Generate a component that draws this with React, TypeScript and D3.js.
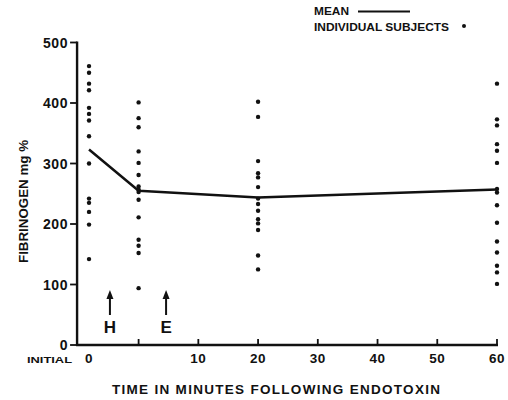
import React from "react";
import * as d3 from "d3";

// ---- data ----
const columnTimes = [-8.3, 0, 20, 60]; // plotting positions in minutes; first column = initial values
const initialValues = [461, 450, 432, 421, 392, 382, 371, 345, 300, 242, 235, 220, 199, 142];
const time0Values = [401, 375, 360, 320, 301, 281, 262, 257, 253, 240, 211, 174, 164, 152, 94];
const time20Values = [402, 377, 304, 284, 277, 261, 242, 233, 222, 208, 201, 190, 148, 125];
const time60Values = [432, 373, 363, 332, 321, 301, 258, 252, 231, 202, 171, 153, 131, 120, 101];
const meanValues = [323, 255, 244, 257];
const yTicks = [0, 100, 200, 300, 400, 500];
const xTickMarks = [0, 10, 20, 30, 40, 50, 60];
const xTickLabels = [
  { t: -8.3, label: "0" },
  { t: 10, label: "10" },
  { t: 20, label: "20" },
  { t: 30, label: "30" },
  { t: 40, label: "40" },
  { t: 50, label: "50" },
  { t: 60, label: "60" },
];
const arrows = [
  { t: -4.8, label: "H" },
  { t: 4.6, label: "E" },
];

const FONT = "'Liberation Sans', Arial, sans-serif";

export default function App() {
  const W = 508;
  const H = 400;
  const x = d3.scaleLinear().domain([0, 60]).range([138.6, 497]);
  const y = d3.scaleLinear().domain([0, 500]).range([345, 42.5]);
  const axisLeft = x(-10.3);

  const groups = [initialValues, time0Values, time20Values, time60Values];
  const points = groups.flatMap((vals, i) => vals.map((v) => ({ t: columnTimes[i], v })));
  const meanLine = d3
    .line<number>()
    .x((_, i) => x(columnTimes[i]))
    .y((d) => y(d))(meanValues) as string;

  return (
    <svg
      width={W}
      height={H}
      style={{ position: "absolute", left: 0, top: 0, background: "#fff" }}
      fontFamily={FONT}
      fontWeight="bold"
    >
      {/* legend */}
      <text x={314} y={15.2} fontSize={10} textLength={35} lengthAdjust="spacingAndGlyphs" fill="#111">
        MEAN
      </text>
      <line x1={358} x2={410} y1={11.5} y2={11.5} stroke="#111" strokeWidth={2} />
      <text x={314} y={30.5} fontSize={10.5} textLength={135} lengthAdjust="spacingAndGlyphs" fill="#111">
        INDIVIDUAL SUBJECTS
      </text>
      <circle cx={464} cy={26} r={2} fill="#111" />

      {/* y axis */}
      <line x1={axisLeft} x2={axisLeft} y1={y(500) - 1} y2={y(0) + 1} stroke="#111" strokeWidth={2.4} />
      {yTicks.map((v) => (
        <g key={v}>
          <line x1={axisLeft - 7} x2={axisLeft} y1={y(v)} y2={y(v)} stroke="#111" strokeWidth={1.8} />
          <text
            x={axisLeft - 9}
            y={y(v) + 5}
            fontSize={14}
            textAnchor="end"
            fill="#111"
            letterSpacing={0.6}
          >
            {v}
          </text>
        </g>
      ))}
      <text
        transform={`translate(28,${201.5}) rotate(-90)`}
        fontSize={12.5}
        textAnchor="middle"
        textLength={123}
        lengthAdjust="spacingAndGlyphs"
        fill="#111"
      >
        FIBRINOGEN  mg %
      </text>

      {/* x axis */}
      <line x1={axisLeft - 1} x2={x(60) + 1} y1={y(0)} y2={y(0)} stroke="#111" strokeWidth={2.4} />
      {xTickMarks.map((t) => (
        <line key={t} x1={x(t)} x2={x(t)} y1={y(0)} y2={y(0) - 6} stroke="#111" strokeWidth={1.8} />
      ))}
      {xTickLabels.map((d) => (
        <text key={d.label} x={x(d.t)} y={363} fontSize={13.5} textAnchor="middle" fill="#111" letterSpacing={0.5}>
          {d.label}
        </text>
      ))}
      <text x={27} y={362.5} fontSize={9.5} textLength={45} lengthAdjust="spacingAndGlyphs" fill="#111">
        INITIAL
      </text>
      <text
        x={276}
        y={394}
        fontSize={13.5}
        textAnchor="middle"
        textLength={328}
        lengthAdjust="spacing"
        fill="#111"
      >
        TIME IN MINUTES FOLLOWING ENDOTOXIN
      </text>

      {/* arrows */}
      {arrows.map((a) => (
        <g key={a.label}>
          <line x1={x(a.t)} x2={x(a.t)} y1={298} y2={315} stroke="#111" strokeWidth={2} />
          <path
            d={`M${x(a.t)},${290} L${x(a.t) - 3.5},${299} L${x(a.t) + 3.5},${299} Z`}
            fill="#111"
          />
          <text x={x(a.t)} y={333} fontSize={17} textAnchor="middle" fill="#111">
            {a.label}
          </text>
        </g>
      ))}

      {/* mean line */}
      <path d={meanLine} fill="none" stroke="#111" strokeWidth={2.5} strokeLinejoin="round" />

      {/* individual points */}
      {points.map((p, i) => (
        <circle key={i} cx={x(p.t)} cy={y(p.v)} r={2.2} fill="#111" />
      ))}
    </svg>
  );
}
